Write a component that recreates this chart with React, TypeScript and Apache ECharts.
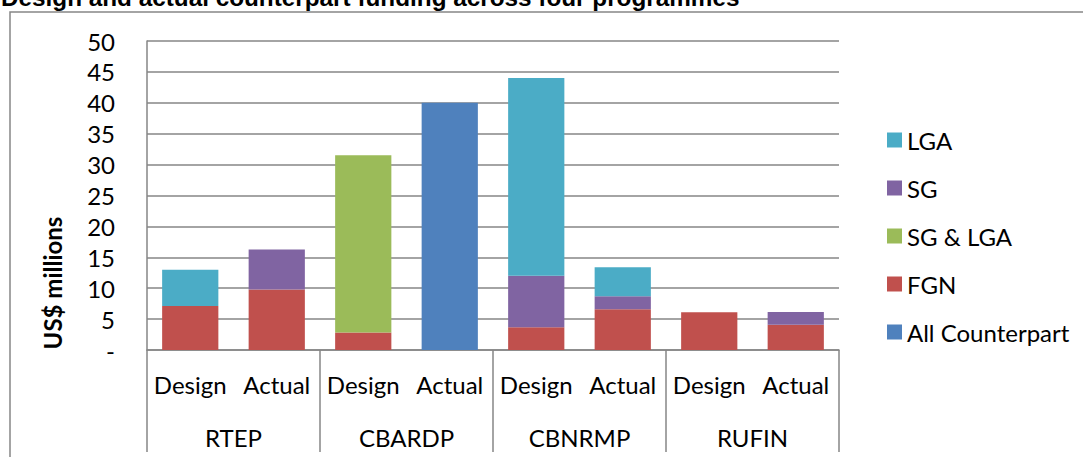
import React, { useEffect, useRef } from "react";
import * as echarts from "echarts";

const stages = ["Design", "Actual", "Design", "Actual", "Design", "Actual", "Design", "Actual"];
const programmes = ["RTEP", "CBARDP", "CBNRMP", "RUFIN"];
const allCounterpart = [null, null, null, 40.0, null, null, null, null];
const fgn = [7.1, 9.8, 2.85, null, 3.7, 6.6, 6.1, 4.1];
const sgAndLga = [null, null, 28.65, null, null, null, null, null];
const sg = [null, 6.45, null, null, 8.3, 2.1, null, 2.05];
const lga = [5.9, null, null, null, 32.0, 4.7, null, null];
const yTicks = { min: 0, max: 50, interval: 5 };

const FONT = "Lato";
const GRAY = "#868686";

export default function App() {
  const ref = useRef<HTMLDivElement>(null);
  useEffect(() => {
    const chart = echarts.init(ref.current!, null, { renderer: "svg" });
    const mk = (name: string, data: (number | null)[], color: string) => ({
      name,
      type: "bar",
      stack: "total",
      data,
      barCategoryGap: "35%",
      itemStyle: { color },
      xAxisIndex: 0,
      yAxisIndex: 0,
    });
    chart.setOption({
      animation: false,
      textStyle: { fontFamily: FONT },
      grid: { left: 147, right: 244, top: 41, bottom: 107, containLabel: false },
      legend: {
        orient: "vertical",
        left: 882,
        top: 123,
        itemWidth: 15,
        itemHeight: 15,
        itemGap: 24,
        icon: "rect",
        data: ["LGA", "SG", "SG & LGA", "FGN", "All Counterpart"],
        textStyle: { fontFamily: FONT, fontSize: 24, color: "#000" },
      },
      xAxis: [
        {
          type: "category",
          data: stages,
          position: "bottom",
          axisLine: { show: true, lineStyle: { color: GRAY, width: 1.5 } },
          axisTick: { show: false },
          axisLabel: { margin: 22, fontSize: 24, color: "#000", fontFamily: FONT, interval: 0 },
        },
        {
          type: "category",
          data: programmes,
          position: "bottom",
          axisLine: { show: false },
          axisTick: { show: true, length: 102, lineStyle: { color: GRAY, width: 1.5 } },
          axisLabel: { margin: 75, fontSize: 24, color: "#000", fontFamily: FONT, interval: 0 },
        },
      ],
      yAxis: {
        type: "value",
        min: yTicks.min,
        max: yTicks.max,
        interval: yTicks.interval,
        axisLine: { show: true, lineStyle: { color: GRAY, width: 1.5 } },
        axisTick: { show: false },
        splitLine: { lineStyle: { color: GRAY, width: 1.5 } },
        axisLabel: {
          margin: 32,
          fontSize: 24,
          color: "#000",
          fontFamily: FONT,
          formatter: (v: number) => (v === 0 ? "-" : String(v)),
        },
      },
      graphic: [
        {
          type: "rect",
          shape: { x: 10, y: 12, width: 1200, height: 600 },
          style: { fill: "none", stroke: GRAY, lineWidth: 1.5 },
          silent: true,
        },
        {
          type: "text",
          x: 1,
          y: -3,
          style: {
            text: "Design and actual counterpart funding across four programmes",
            fontFamily: "Liberation Sans",
            fontWeight: "bold",
            fontSize: 24.3,
            fill: "#000",
            verticalAlign: "middle",
            align: "left",
          },
        },
        {
          type: "text",
          x: 52,
          y: 283,
          rotation: Math.PI / 2,
          style: {
            text: "US$ millions",
            fontFamily: FONT,
            fontWeight: "bold",
            fontSize: 24,
            fill: "#000",
            align: "center",
            verticalAlign: "middle",
          },
        },
      ],
      series: [
        mk("All Counterpart", allCounterpart, "#4F81BD"),
        mk("FGN", fgn, "#C0504D"),
        mk("SG & LGA", sgAndLga, "#9BBB59"),
        mk("SG", sg, "#8064A2"),
        mk("LGA", lga, "#4BACC6"),
      ],
    });
    return () => chart.dispose();
  }, []);
  return (
    <div
      ref={ref}
      style={{ position: "fixed", left: 0, top: 0, width: 1083, height: 457, background: "#fff" }}
    />
  );
}
